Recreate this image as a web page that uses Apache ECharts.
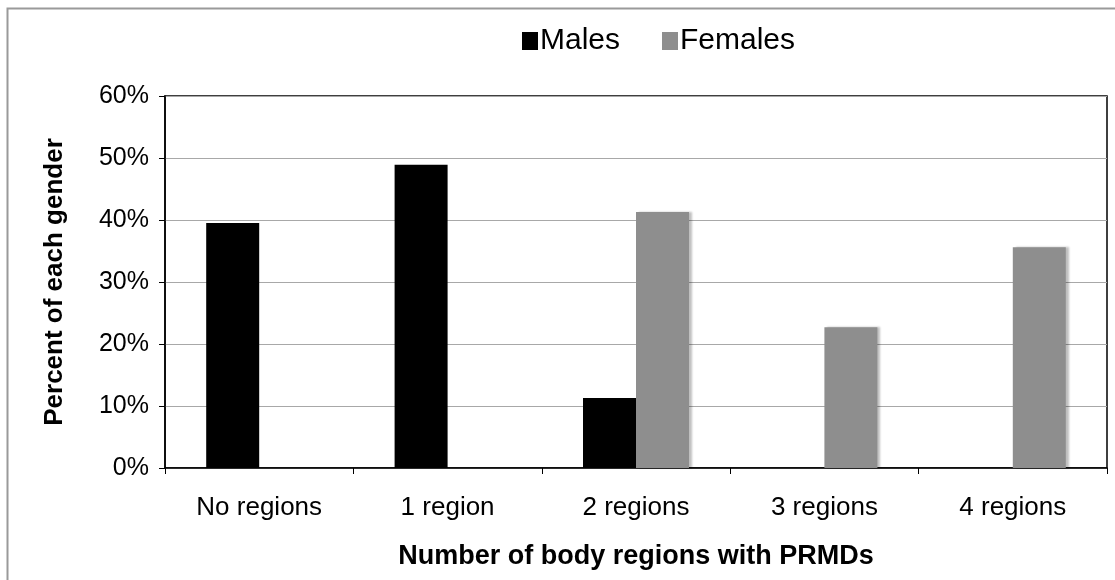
<!DOCTYPE html>
<html>
<head>
<meta charset="utf-8">
<script src="https://cdn.jsdelivr.net/npm/echarts@6/dist/echarts.min.js"></script>
<style>
  html, body { margin: 0; padding: 0; background: #fff; }
  #chart { width: 1115px; height: 580px; }
</style>
</head>
<body>
<div id="chart"></div>
<script>
  var categories = ['No regions', '1 region', '2 regions', '3 regions', '4 regions'];
  var males = [39.5, 48.9, 11.3, 0, 0];
  var females = [0, 0, 41.3, 22.7, 35.6];
  var yTicks = [0, 10, 20, 30, 40, 50, 60];

  var font = '"Liberation Sans", Arial, sans-serif';
  var myChart = echarts.init(document.getElementById('chart'));

  var option = {
    backgroundColor: '#fff',
    animation: false,
    textStyle: { fontFamily: font },
    graphic: [{
      type: 'polyline',
      shape: { points: [[7.5, 580], [7.5, 8.5], [1115, 8.5]] },
      style: { stroke: '#9a9a9a', lineWidth: 2, fill: null }
    }],
    legend: {
      top: 21,
      left: 517,
      itemWidth: 16,
      itemHeight: 18,
      itemGap: 42,
      icon: 'rect',
      textStyle: { fontFamily: font, fontSize: 30, color: '#000', padding: [0, 0, 0, -3] },
      data: ['Males', 'Females']
    },
    grid: {
      left: 165,
      right: 8,
      top: 96,
      bottom: 112,
      outerBoundsMode: 'none',
      containLabel: false,
      show: true,
      borderColor: '#000',
      borderWidth: 1.5
    },
    xAxis: {
      type: 'category',
      data: categories,
      name: 'Number of body regions with PRMDs',
      nameLocation: 'middle',
      nameGap: 75,
      nameTextStyle: { fontFamily: font, fontSize: 27, fontWeight: 'bold', color: '#000' },
      axisLine: { lineStyle: { color: '#000', width: 1.5 } },
      axisTick: { show: true, length: 6, lineStyle: { color: '#000' } },
      axisLabel: { fontFamily: font, fontSize: 26, color: '#000', margin: 27 }
    },
    yAxis: {
      type: 'value',
      min: yTicks[0],
      max: yTicks[yTicks.length - 1],
      interval: 10,
      name: 'Percent of each gender',
      nameLocation: 'middle',
      nameGap: 97,
      nameTextStyle: { fontFamily: font, fontSize: 26, fontWeight: 'bold', color: '#000' },
      axisLine: { show: true, lineStyle: { color: '#000', width: 1.5 } },
      axisTick: { show: true, length: 6, lineStyle: { color: '#000' } },
      axisLabel: { fontFamily: font, fontSize: 25, color: '#000', margin: 16, formatter: '{value}%' },
      splitLine: { lineStyle: { color: '#a8a8a8', width: 1 } }
    },
    series: [{
      name: 'Males',
      type: 'bar',
      data: males,
      barWidth: 53,
      barGap: '0%',
      itemStyle: { color: '#000' }
    }, {
      name: 'Females',
      type: 'bar',
      data: females,
      barWidth: 53,
      itemStyle: {
        color: '#8e8e8e',
        shadowColor: 'rgba(0,0,0,0.25)',
        shadowOffsetX: 3,
        shadowBlur: 2
      }
    }]
  };
  myChart.setOption(option);
</script>
</body>
</html>
